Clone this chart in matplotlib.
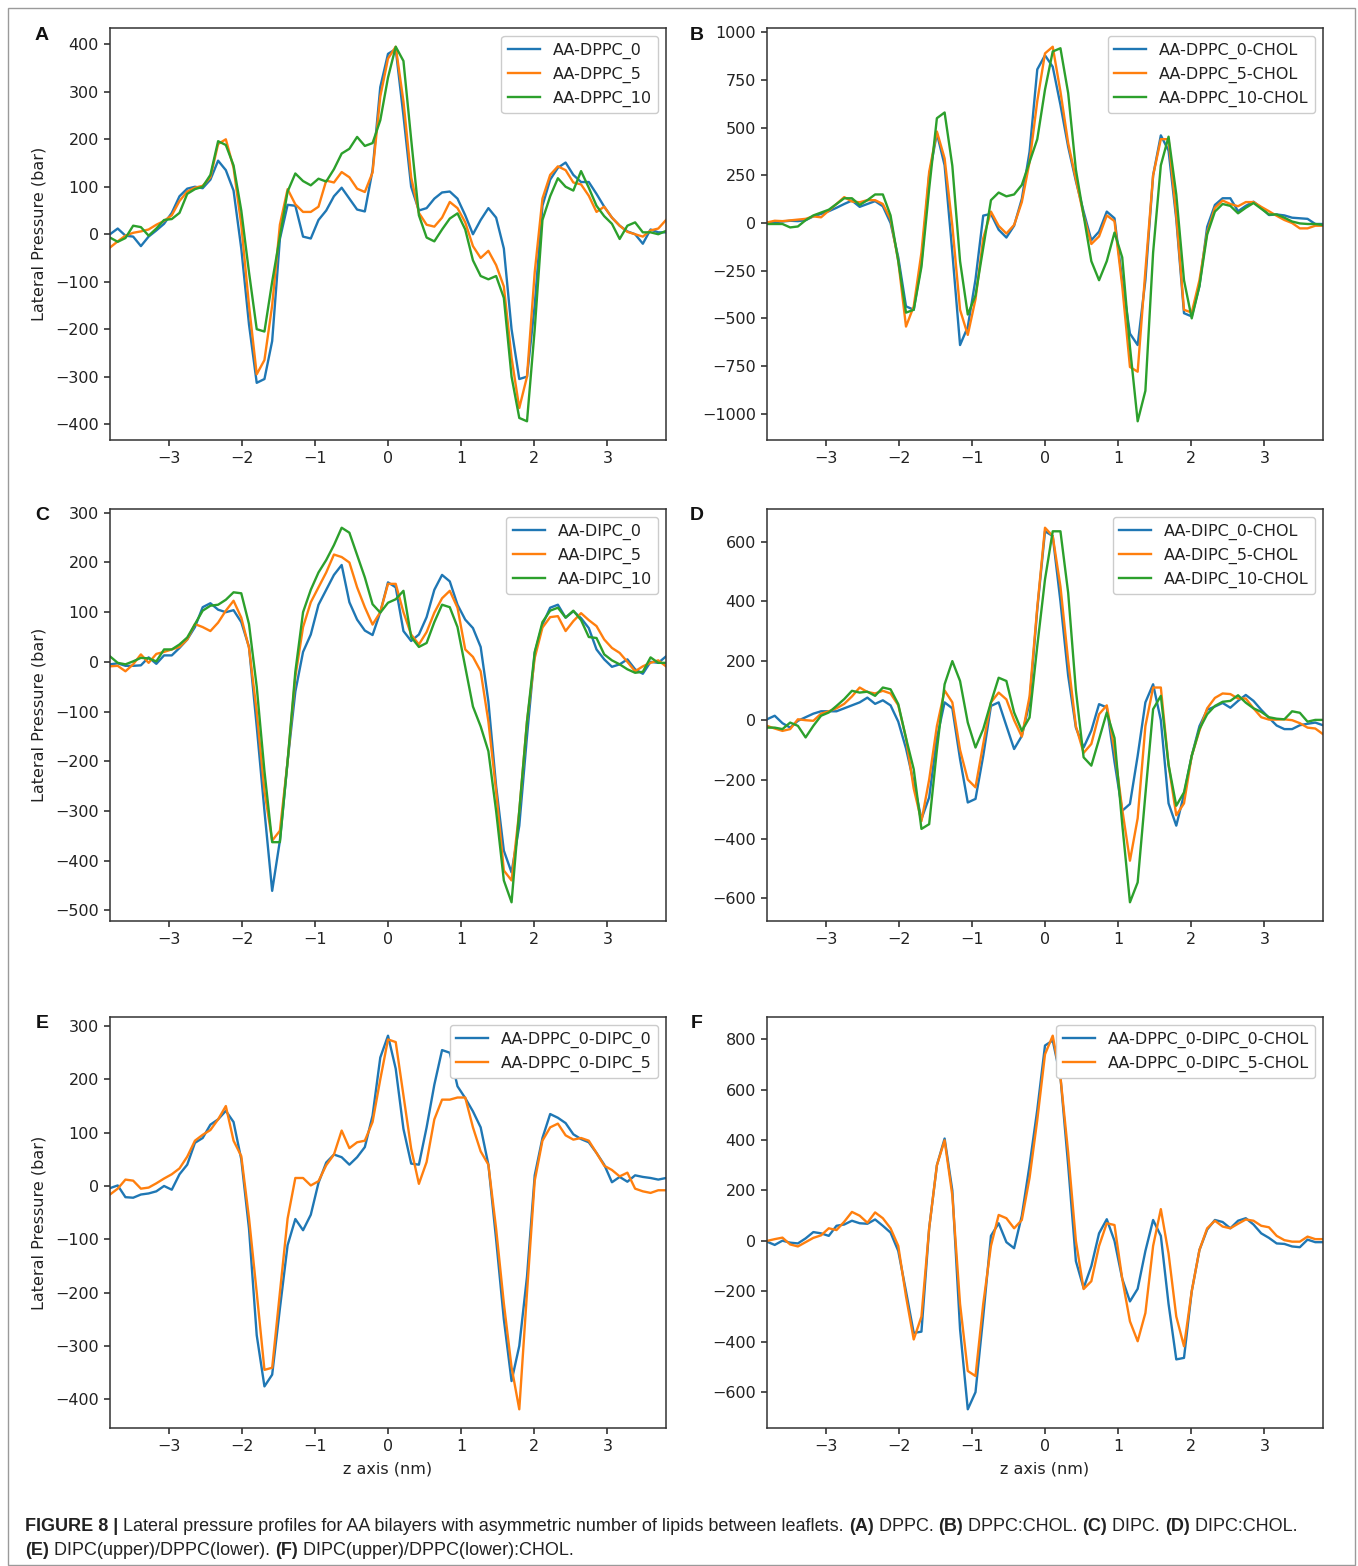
import numpy as np
import matplotlib
matplotlib.use("Agg")
import matplotlib.pyplot as plt
from matplotlib.patches import Rectangle

# Position across the bilayer (nm), bilayer centre at 0
z_nm = np.linspace(-3.8, 3.8, 73)

# ---- (A) DPPC ----
dppc_0 = [0, 12, -3, -5, -25, -5, 8, 22, 45, 80, 96, 100, 97, 115, 155, 135, 92, -30, -190, -313,
          -305, -225, -10, 62, 60, -5, -9, 30, 50, 80, 98, 75, 52, 48, 135, 310, 380,
          390, 250, 100, 50, 55, 75, 88, 90, 75, 40, 0, 30, 55, 35, -30, -200, -305, -300, -150, 60,
          115, 140, 151, 125, 110, 110, 85, 58, 35, 18, 6, 0, -20, 10, 4, 4]
dppc_5 = [-28, -15, -3, 3, 6, 10, 20, 28, 40, 70, 90, 98, 102, 120, 190, 200, 140, 20, -150, -295,
          -265, -150, 20, 95, 63, 47, 47, 58, 113, 109, 131, 120, 96, 89, 130, 290, 370,
          395, 280, 120, 45, 20, 16, 35, 68, 55, 25, -25, -50, -35, -65, -110, -260, -366, -300, -80, 75,
          125, 143, 135, 109, 105, 81, 47, 58, 35, 18, 5, 0, -5, 8, 12, 30]
dppc_10 = [-7, -16, -8, 18, 15, -3, 12, 30, 32, 45, 85, 95, 100, 125, 196, 188, 145, 50, -80, -200,
           -205, -100, -5, 90, 128, 112, 103, 117, 111, 137, 170, 180, 205, 186, 192, 240, 330,
           395, 365, 200, 40, -7, -15, 10, 33, 44, 10, -55, -88, -95, -88, -134, -300, -387, -394, -200, 30,
           80, 118, 100, 92, 133, 98, 60, 38, 22, -10, 18, 25, 4, 4, 0, 7]

# ---- (B) DPPC:CHOL ----
dppc_0_chol = [3, 5, 8, 12, 10, 15, 35, 48, 62, 80, 100, 118, 85, 100, 115, 88, 0, -180, -437, -455,
               -208, 250, 470, 303, -155, -640, -545, -296, 39, 48, -35, -76, -14, 127, 374, 806, 880,
               820, 620, 400, 220, 60, -90, -45, 60, 25, -300, -580, -640, -300, 250, 460, 380, 20, -473, -490, -330,
               -20, 95, 130, 130, 62, 90, 112, 80, 42, 45, 40, 28, 25, 22, -5, -5]
dppc_5_chol = [3, 12, 10, 14, 18, 22, 35, 30, 65, 100, 136, 113, 109, 120, 120, 100, 20, -200, -543, -437,
               -155, 268, 480, 339, -14, -455, -587, -400, -80, 60, -15, -55, -10, 110, 320, 640, 890,
               925, 690, 420, 230, 40, -110, -70, 40, 10, -330, -755, -780, -250, 250, 440, 440, 40, -455, -470, -300,
               -50, 80, 118, 100, 88, 110, 110, 85, 62, 38, 16, 0, -28, -28, -14, -14]
dppc_10_chol = [-5, -5, -5, -23, -18, 15, 40, 55, 70, 100, 130, 130, 95, 120, 150, 150, 40, -200, -470, -455,
                -230, 180, 550, 580, 300, -200, -480, -380, -130, 120, 160, 140, 150, 200, 320, 440, 700,
                900, 917, 682, 280, 40, -200, -300, -200, -50, -180, -650, -1040, -880, -155, 303, 453, 150, -300, -500, -330,
                -60, 60, 100, 90, 51, 80, 105, 75, 45, 45, 28, 8, -2, -5, -5, -10]

# ---- (C) DIPC ----
dipc_0 = [-5, -3, -8, -8, -7, 9, -4, 13, 13, 28, 45, 70, 110, 118, 105, 100, 104, 80, 30, -130,
          -300, -461, -360, -200, -60, 20, 55, 115, 145, 175, 195, 120, 85, 63, 54, 100, 160,
          150, 62, 42, 55, 90, 145, 175, 162, 115, 85, 68, 30, -80, -250, -380, -424, -330, -150, 18, 75,
          109, 115, 89, 102, 88, 68, 25, 5, -10, -5, 5, -15, -24, 0, -2, 11]
dipc_5 = [-9, -8, -19, -5, 15, -2, 16, 20, 25, 30, 45, 76, 70, 62, 79, 103, 123, 89, 28, -100,
          -260, -360, -340, -200, -30, 70, 120, 150, 180, 216, 211, 200, 150, 110, 75, 100, 157,
          157, 100, 55, 35, 60, 99, 128, 143, 109, 25, 10, -19, -120, -260, -420, -440, -300, -120, 8, 69,
          90, 92, 62, 82, 98, 84, 72, 45, 28, 18, 0, -19, -9, -2, 3, -9]
dipc_10 = [11, -2, -5, 1, 8, 7, 1, 25, 25, 35, 49, 76, 103, 113, 115, 125, 140, 138, 76, -50,
           -220, -363, -363, -200, -20, 100, 145, 180, 205, 235, 270, 260, 215, 170, 116, 99, 119,
           126, 143, 50, 30, 38, 80, 115, 110, 70, -10, -90, -130, -180, -300, -440, -484, -300, -120, 20, 80,
           103, 109, 89, 103, 84, 50, 48, 15, 3, -5, -15, -22, -20, 9, -2, -2]

# ---- (D) DIPC:CHOL ----
dipc_0_chol = [3, 15, -10, -25, -2, 10, 22, 30, 30, 30, 40, 50, 60, 76, 55, 67, 50, -5, -95, -210,
               -333, -260, -60, 60, 40, -131, -277, -265, -120, 48, 60, -19, -97, -53, 60, 373, 636,
               620, 400, 150, -25, -92, -35, 54, 43, -140, -305, -282, -120, 60, 121, 0, -280, -355, -250, -120, -20,
               35, 46, 58, 42, 65, 85, 65, 35, 8, -18, -30, -30, -17, -12, -8, -17]
dipc_5_chol = [-19, -28, -36, -30, 3, 0, -2, 22, 30, 40, 55, 80, 110, 95, 90, 99, 90, 50, -60, -230,
               -340, -200, -20, 100, 60, -100, -200, -226, -80, 60, 93, 70, 0, -55, 80, 380, 648,
               620, 450, 200, -20, -110, -80, 20, 50, -100, -300, -473, -330, -20, 110, 110, -150, -320, -280, -120, -35,
               40, 75, 90, 88, 73, 73, 40, 10, 2, 2, 3, 0, -10, -25, -28, -47]
dipc_10_chol = [-25, -25, -30, -8, -19, -58, -19, 15, 26, 48, 71, 99, 93, 96, 82, 110, 104, 54, -60, -165,
                -366, -350, -100, 121, 199, 132, -8, -92, -30, 60, 143, 132, 26, -36, 9, 250, 474,
                636, 636, 429, 100, -125, -153, -64, 26, -60, -350, -613, -546, -250, 37, 82, -150, -288, -243, -120, -30,
                20, 48, 62, 65, 84, 59, 40, 28, 10, 5, 3, 30, 25, -5, 1, 1]

# ---- (E) DIPC(upper)/DPPC(lower) ----
dppc_0_dipc_0 = [-4, 1, -21, -22, -16, -14, -10, 0, -7, 22, 40, 81, 90, 115, 125, 141, 120, 50, -80, -280,
                 -376, -354, -230, -111, -62, -83, -54, 6, 44, 59, 54, 40, 54, 73, 132, 241, 282,
                 220, 107, 42, 40, 110, 190, 255, 250, 187, 165, 140, 110, 40, -100, -250, -366, -300, -170, 20, 90,
                 135, 128, 118, 97, 88, 82, 62, 40, 7, 17, 8, 20, 17, 15, 12, 15]
dppc_0_dipc_5 = [-16, -5, 12, 10, -5, -3, 5, 14, 22, 33, 55, 85, 96, 105, 125, 150, 85, 56, -60, -200,
                 -345, -341, -200, -61, 15, 15, 1, 9, 39, 59, 104, 71, 82, 85, 120, 200, 275,
                 270, 170, 70, 4, 45, 125, 162, 162, 166, 166, 110, 65, 40, -80, -220, -340, -419, -200, 10, 85,
                 110, 117, 95, 87, 90, 85, 62, 38, 30, 18, 25, -5, -10, -13, -8, -8]

# ---- (F) DIPC(upper)/DPPC(lower):CHOL ----
dppc_0_dipc_0_chol = [-3, -16, 1, -7, -10, 10, 35, 30, 20, 60, 65, 80, 70, 68, 85, 60, 33, -40, -200, -365,
                      -360, 50, 300, 406, 200, -350, -668, -600, -300, 20, 70, -5, -29, 100, 300, 520, 775,
                      795, 650, 300, -80, -187, -100, 30, 86, 0, -150, -240, -190, -40, 83, 20, -250, -470, -464, -200, -36,
                      45, 83, 75, 50, 80, 90, 65, 30, 12, -10, -12, -22, -25, 5, -5, -5]
dppc_0_dipc_5_chol = [0, 7, 13, -14, -22, -5, 12, 22, 50, 43, 76, 115, 100, 72, 113, 90, 50, -20, -220, -391,
                      -300, 50, 300, 399, 180, -250, -516, -536, -250, -20, 103, 90, 50, 83, 250, 480, 740,
                      814, 650, 350, 0, -191, -160, -20, 70, 63, -150, -319, -398, -286, -20, 126, -50, -300, -418, -200, -36,
                      50, 80, 57, 50, 68, 85, 80, 60, 54, 20, 3, -3, -3, 17, 7, 7]

x_ticks = [-3, -2, -1, 0, 1, 2, 3]
y_ticks_a = [-400, -300, -200, -100, 0, 100, 200, 300, 400]
y_ticks_b = [-1000, -750, -500, -250, 0, 250, 500, 750, 1000]
y_ticks_c = [-500, -400, -300, -200, -100, 0, 100, 200, 300]
y_ticks_d = [-600, -400, -200, 0, 200, 400, 600]
y_ticks_e = [-400, -300, -200, -100, 0, 100, 200, 300]
y_ticks_f = [-600, -400, -200, 0, 200, 400, 600, 800]

panels = [
    ("A", [(dppc_0, "AA-DPPC_0"), (dppc_5, "AA-DPPC_5"), (dppc_10, "AA-DPPC_10")], y_ticks_a),
    ("B", [(dppc_0_chol, "AA-DPPC_0-CHOL"), (dppc_5_chol, "AA-DPPC_5-CHOL"),
           (dppc_10_chol, "AA-DPPC_10-CHOL")], y_ticks_b),
    ("C", [(dipc_0, "AA-DIPC_0"), (dipc_5, "AA-DIPC_5"), (dipc_10, "AA-DIPC_10")], y_ticks_c),
    ("D", [(dipc_0_chol, "AA-DIPC_0-CHOL"), (dipc_5_chol, "AA-DIPC_5-CHOL"),
           (dipc_10_chol, "AA-DIPC_10-CHOL")], y_ticks_d),
    ("E", [(dppc_0_dipc_0, "AA-DPPC_0-DIPC_0"), (dppc_0_dipc_5, "AA-DPPC_0-DIPC_5")], y_ticks_e),
    ("F", [(dppc_0_dipc_0_chol, "AA-DPPC_0-DIPC_0-CHOL"),
           (dppc_0_dipc_5_chol, "AA-DPPC_0-DIPC_5-CHOL")], y_ticks_f),
]
colors = ["#1f77b4", "#ff7f0e", "#2ca02c"]

W, H = 1358, 1566
fig = plt.figure(figsize=(W / 100, H / 100), dpi=100)
fig.patch.set_facecolor("white")

plt.rcParams["axes.linewidth"] = 1.1

# axes boxes in pixels: (left, top, right, bottom)
col_x = [(110, 666), (767, 1323)]
row_y = [(28, 440), (509, 921), (1017, 1428)]

tick_fs = 11.5
for i, (letter, series, yt) in enumerate(panels):
    r, c = divmod(i, 2)
    x0, x1 = col_x[c]
    y0, y1 = row_y[r]
    ax = fig.add_axes([x0 / W, 1 - y1 / H, (x1 - x0) / W, (y1 - y0) / H])
    for j, (vals, lab) in enumerate(series):
        ax.plot(z_nm, vals, color=colors[j], lw=1.7, label=lab)
    ax.set_xlim(z_nm[0], z_nm[-1])
    ax.set_xticks(x_ticks)
    ax.set_yticks(yt)
    ax.tick_params(labelsize=tick_fs, colors="#222222", length=4.5, width=1.1)
    for sp in ax.spines.values():
        sp.set_color("#333333")
    leg = ax.legend(loc="upper right", fontsize=tick_fs, framealpha=1.0,
                    edgecolor="#cccccc", handlelength=2.0)
    for t in leg.get_texts():
        t.set_color("#222222")
    if c == 0:
        ax.set_ylabel("Lateral Pressure (bar)", fontsize=tick_fs, color="#222222", labelpad=6)
    if r == 2:
        ax.set_xlabel("z axis (nm)", fontsize=tick_fs, color="#222222", labelpad=5)
    lx = 42 if c == 0 else 697
    ly = y0 + 7
    fig.text(lx / W, 1 - ly / H, letter, fontsize=14, fontweight="bold",
             family="Liberation Sans", ha="center", va="center", color="#111111")

# outer frame
fig.add_artist(Rectangle((8 / W, 1 - 1565 / H), (1355 - 8) / W, (1565 - 8) / H,
                         transform=fig.transFigure, fill=False, edgecolor="#9a9a9a", lw=1.0))

# caption with bold run markers
renderer = fig.canvas.get_renderer()
cap_kw = dict(fontsize=13.0, family="Liberation Sans", color="#222222")


def run_width(s, weight):
    t = fig.text(0, 0, "|" + s + "|", fontweight=weight, **cap_kw)
    w = t.get_window_extent(renderer).width
    t.remove()
    t2 = fig.text(0, 0, "||", fontweight=weight, **cap_kw)
    w2 = t2.get_window_extent(renderer).width
    t2.remove()
    return w - w2


def draw_runs(x_px, base_px, runs):
    x = x_px
    for s, weight in runs:
        fig.text(x / W, 1 - base_px / H, s, fontweight=weight, va="baseline", **cap_kw)
        x += run_width(s, weight)


line1 = [("FIGURE 8 |", "bold"),
         (" Lateral pressure profiles for AA bilayers with asymmetric number of lipids between leaflets. ", "normal"),
         ("(A)", "bold"), (" DPPC. ", "normal"),
         ("(B)", "bold"), (" DPPC:CHOL. ", "normal"),
         ("(C)", "bold"), (" DIPC. ", "normal"),
         ("(D)", "bold"), (" DIPC:CHOL.", "normal")]
line2 = [("(E)", "bold"), (" DIPC(upper)/DPPC(lower). ", "normal"),
         ("(F)", "bold"), (" DIPC(upper)/DPPC(lower):CHOL.", "normal")]
draw_runs(25, 1531, line1)
draw_runs(25, 1555, line2)

fig.savefig("out.png", dpi=100, facecolor="white")
